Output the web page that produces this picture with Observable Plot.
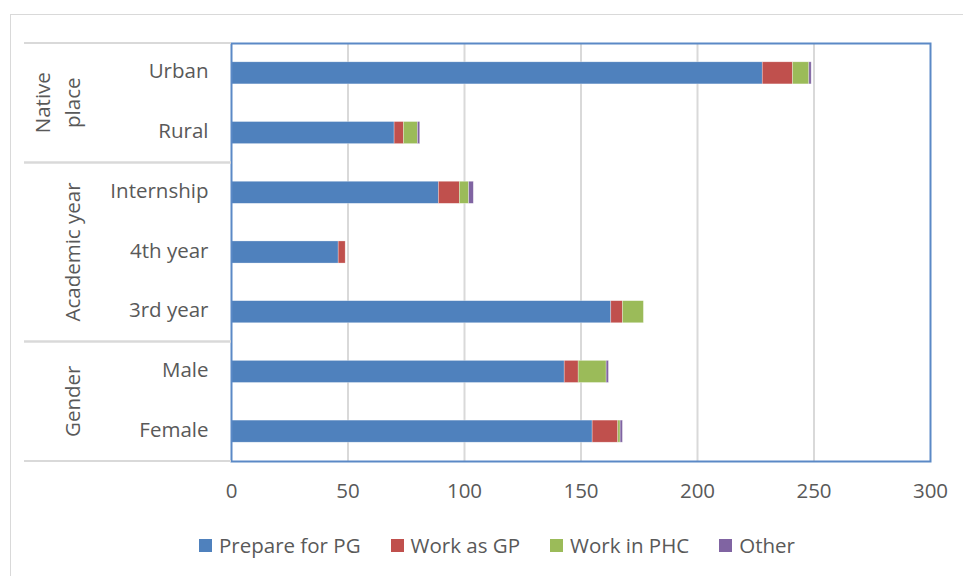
<!DOCTYPE html>
<html>
<head>
<meta charset="utf-8">
<script src="https://cdn.jsdelivr.net/npm/d3@7"></script>
<script src="https://cdn.jsdelivr.net/npm/@observablehq/plot@0.6"></script>
<style>
  html, body { margin: 0; padding: 0; background: #fff; overflow: hidden; }
  #wrap { position: relative; width: 963px; height: 576px; font-family: "Open Sans", sans-serif; color: #595959; }
  #outline { position: absolute; left: 10px; top: 14px; width: 1200px; height: 900px; border: 1px solid #d9d9d9; box-sizing: border-box; }
  #chart { position: absolute; left: 0; top: 0; }
  #legend { position: absolute; left: 199px; top: 531px; display: flex; align-items: center; font-size: 20.5px; white-space: nowrap; }
  .item { display: flex; align-items: center; margin-right: 30px; }
  .swatch { width: 13px; height: 13px; margin-right: 7px; }
</style>
</head>
<body>
<div id="wrap">
  <div id="outline"></div>
  <div id="chart"></div>
  <div id="legend"></div>
</div>
<script>
// Respondent categories, top to bottom
const categories = ["Urban", "Rural", "Internship", "4th year", "3rd year", "Male", "Female"];

// Grouping of the categories (label lines, then member categories)
const groupLabels = [["Native", "place"], ["Academic year"], ["Gender"]];
const groupMembers = [["Urban", "Rural"], ["Internship", "4th year", "3rd year"], ["Male", "Female"]];

// Career plan series
const seriesNames = ["Prepare for PG", "Work as GP", "Work in PHC", "Other"];
const seriesColors = ["#4f81bd", "#c0504d", "#9bbb59", "#8064a2"];

// Counts per category, in category order
const prepareForPG = [228, 70, 89, 46, 163, 143, 155];
const workAsGP     = [13, 4, 9, 3, 5, 6, 11];
const workInPHC    = [7, 6, 4, 0, 9, 12, 1];
const other        = [1, 1, 2, 0, 0, 1, 1];

const xTicks = [0, 50, 100, 150, 200, 250, 300];

const seriesValues = [prepareForPG, workAsGP, workInPHC, other];
const rows = [];
categories.forEach((c, i) => {
  seriesNames.forEach((s, j) => {
    const v = seriesValues[j][i];
    if (v > 0) rows.push({category: c, series: s, value: v});
  });
});

const plot = Plot.plot({
  width: 963,
  height: 520,
  marginLeft: 231,
  marginRight: 33,
  marginTop: 43,
  marginBottom: 59,
  style: {fontFamily: "Open Sans, sans-serif", fontSize: "20.5px", color: "#595959", background: "transparent"},
  x: {domain: [0, 300], ticks: xTicks, label: null},
  y: {domain: categories, paddingInner: 0.63, paddingOuter: 0.315, round: false, label: null},
  color: {domain: seriesNames, range: seriesColors},
  marks: [
    Plot.gridX(xTicks.filter(t => t > 0 && t < 300), {stroke: "#d9d9d9", strokeWidth: 2, strokeOpacity: 1}),
    Plot.barX(rows, Plot.stackX({x: "value", y: "category", fill: "series", order: seriesNames, stroke: "#ffffff", strokeWidth: 0.6, strokeOpacity: 0.5})),
    Plot.frame({stroke: "#5b89c6", strokeWidth: 2}),
    Plot.axisX({ticks: xTicks, tickSize: 0, tickPadding: 22, label: null}),
    Plot.axisY({tickSize: 0, tickPadding: 23, label: null, dy: -1.5})
  ]
});
document.getElementById("chart").appendChild(plot);

// Group separators and rotated group titles, placed with the y band scale
const yScale = plot.scale("y");
const svg = d3.select(plot);
const layer = svg.append("g").attr("fill", "#595959").attr("font-size", 20.5);
const half = yScale.step / 2;
const edgeX1 = 24, edgeX2 = 231;
groupMembers.forEach((members, gi) => {
  const top = yScale.apply(members[0]) + yScale.bandwidth / 2 - half;
  const bottom = yScale.apply(members[members.length - 1]) + yScale.bandwidth / 2 + half;
  [top, bottom].forEach(yy => {
    layer.append("line")
      .attr("x1", edgeX1).attr("x2", edgeX2)
      .attr("y1", yy).attr("y2", yy)
      .attr("stroke", "#d9d9d9").attr("stroke-width", 2);
  });
  const lines = groupLabels[gi];
  const mid = (top + bottom) / 2;
  const lineGap = 30;
  lines.forEach((txt, li) => {
    const cx = 72 - (lines.length - 1 - li) * lineGap;
    layer.append("text")
      .attr("transform", `translate(${cx},${mid}) rotate(-90)`)
      .attr("text-anchor", "middle")
      .attr("dominant-baseline", "central")
      .text(txt);
  });
});

// Legend
const legend = d3.select("#legend");
seriesNames.forEach((s, i) => {
  const item = legend.append("div").attr("class", "item");
  item.append("div").attr("class", "swatch").style("background", seriesColors[i]);
  item.append("span").text(s);
});
</script>
</body>
</html>
